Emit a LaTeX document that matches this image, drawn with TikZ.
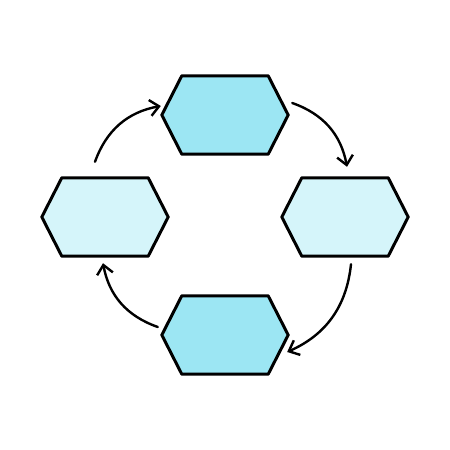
\documentclass[tikz,border=0pt]{standalone}
\usetikzlibrary{arrows.meta}
\definecolor{hexdark}{HTML}{9CE6F3}
\definecolor{hexlight}{HTML}{D5F5FA}
\begin{document}
\begin{tikzpicture}[x=1pt, y=1pt,
    hexbox/.style={minimum width=126pt, minimum height=78pt, inner sep=0pt},
    hexline/.style={draw=black, line width=3pt, line join=round},
    flow/.style={-{Straight Barb[length=9pt,width=16pt,line width=2.4pt]}, line width=2.4pt, line cap=round}]
    \useasboundingbox (0,0) rectangle (450,450);
    \foreach \name/\x/\y/\col in {top/225/335/hexdark, lft/105/233/hexlight, rgt/345/233/hexlight, bot/225/115/hexdark}{
        \node[hexbox] (\name) at (\x,\y) {};
        \filldraw[hexline, fill=\col] (\name.west) -- ([xshift=20]\name.north west) -- ([xshift=-20]\name.north east)
            -- (\name.east) -- ([xshift=-20]\name.south east) -- ([xshift=20]\name.south west) -- cycle;
    }
    % clockwise arrows
    \draw[flow] ([shift={(-10,16)}]lft.north) to[bend left=30] ([shift={(-1,9)}]top.west);
    \draw[flow] ([shift={(4,12)}]top.east) to[bend left=30] ([shift={(2,11)}]rgt.north);
    \draw[flow] ([shift={(6,-8)}]rgt.south) to[bend left=30] ([shift={(-1,-17)}]bot.east);
    \draw[flow] ([shift={(-4,8)}]bot.west) to[bend left=30] ([shift={(-2,-7)}]lft.south);
\end{tikzpicture}
\end{document}
